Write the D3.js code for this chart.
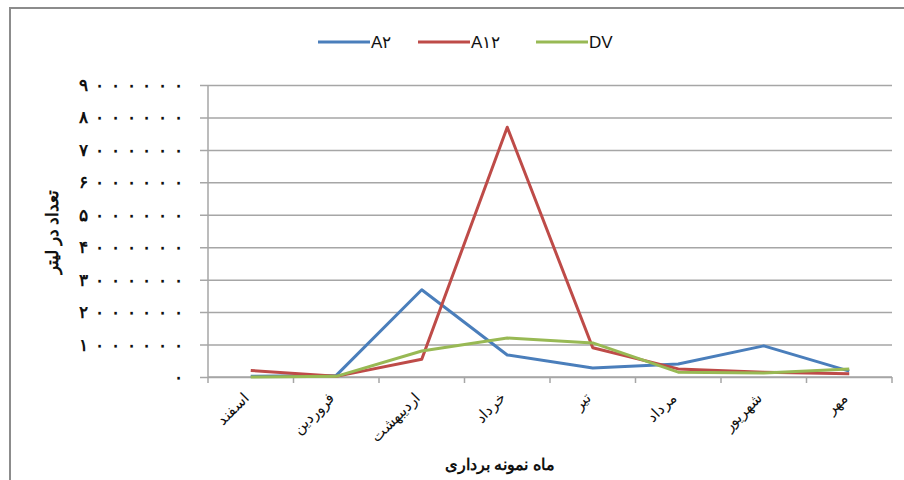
<!DOCTYPE html>
<html>
<head>
<meta charset="utf-8">
<script src="https://cdn.jsdelivr.net/npm/d3@7"></script>
<style>
  body { margin: 0; background: #fff; }
  text { font-family: "Liberation Sans", Arial, sans-serif; fill: #111; }
</style>
</head>
<body>
<script>
const MARGIN = { top: 85, right: 12, bottom: 103, left: 208 };
const WIDTH = 904 - MARGIN.left - MARGIN.right;
const HEIGHT = 480 - MARGIN.top - MARGIN.bottom;

const months = ["اسفند", "فروردین", "اردیبهشت", "خرداد", "تیر", "مرداد", "شهریور", "مهر"];
const seriesNames = ["A۲", "A۱۲", "DV"];
const seriesColors = ["#4A7EBB", "#BE4B48", "#98B954"];
const a2 = [20000, 50000, 2690000, 680000, 280000, 400000, 960000, 180000];
const a12 = [200000, 20000, 550000, 7700000, 900000, 250000, 150000, 100000];
const dv = [0, 20000, 800000, 1200000, 1050000, 150000, 120000, 250000];
const yTicks = [0, 1000000, 2000000, 3000000, 4000000, 5000000, 6000000, 7000000, 8000000, 9000000];

const faDigits = "۰۱۲۳۴۵۶۷۸۹";
const toFa = n => String(n).replace(/\d/g, d => faDigits[+d]);

const svg = d3
  .select("body")
  .append("svg")
  .attr("width", 904)
  .attr("height", 480);

// chart frame
svg.append("path")
  .attr("d", "M10,480 L10,8 L904,8")
  .attr("fill", "none")
  .attr("stroke", "#8c8c8c")
  .attr("stroke-width", 2);

const g = svg.append("g")
  .attr("transform", "translate(" + MARGIN.left + "," + MARGIN.top + ")");

const xScale = d3.scaleBand().domain(months).range([0, WIDTH]);
const yScale = d3.scaleLinear().domain([0, 9000000]).range([HEIGHT, 0]);

// gridlines + y axis
g.append("g")
  .attr("class", "yAxis")
  .call(d3.axisLeft(yScale).tickValues(yTicks).tickSize(-WIDTH).tickPadding(25).tickFormat(toFa))
  .call(a => a.select(".domain").remove())
  .call(a => a.selectAll("line").attr("stroke", "#a6a6a6").attr("stroke-width", 1.5).attr("x1", -8))
  .call(a => a.selectAll("text")
    .attr("font-family", "DejaVu Sans")
    .attr("font-size", 17)
    .attr("font-weight", "bold")
    .attr("fill", "#111")
    .filter(d => d > 0)
    .attr("textLength", 104)
    .attr("lengthAdjust", "spacing"));

g.append("line")
  .attr("x1", 0).attr("x2", 0).attr("y1", 0).attr("y2", HEIGHT)
  .attr("stroke", "#a6a6a6").attr("stroke-width", 1.5);

// x axis with ticks at category boundaries
const xAxis = g.append("g").attr("transform", "translate(0," + HEIGHT + ")");
xAxis.append("line")
  .attr("x1", 0).attr("x2", WIDTH)
  .attr("stroke", "#a6a6a6").attr("stroke-width", 1.5);
xAxis.selectAll(".tick")
  .data(d3.range(months.length + 1))
  .enter()
  .append("line")
  .attr("x1", i => i * xScale.step())
  .attr("x2", i => i * xScale.step())
  .attr("y1", 0).attr("y2", 6)
  .attr("stroke", "#a6a6a6").attr("stroke-width", 1.5);
xAxis.selectAll(".label")
  .data(months)
  .enter()
  .append("text")
  .attr("transform", d => "translate(" + (xScale(d) + xScale.bandwidth() / 2 - 1) + ",22) rotate(-45)")
  .attr("text-anchor", "end")
  .attr("font-size", 15)
  .text(d => d);

// lines
const allSeries = [a2, a12, dv];
const line = d3.line()
  .x((_, i) => xScale(months[i]) + xScale.bandwidth() / 2)
  .y(d => yScale(d));

g.selectAll(".series")
  .data(allSeries)
  .enter()
  .append("path")
  .attr("d", d => line(d))
  .attr("fill", "none")
  .attr("stroke", (_, i) => seriesColors[i])
  .attr("stroke-width", 3)
  .attr("stroke-linejoin", "round");

// legend
const legendX = [318, 418, 536];
const legend = svg.selectAll(".legend")
  .data(seriesNames)
  .enter()
  .append("g")
  .attr("transform", (_, i) => "translate(" + legendX[i] + ",42)");
legend.append("line")
  .attr("x1", 0).attr("x2", 52)
  .attr("stroke", (_, i) => seriesColors[i])
  .attr("stroke-width", 3);
legend.append("text")
  .attr("x", 53).attr("y", 6)
  .attr("font-size", 17)
  .text(d => d);

// axis titles
svg.append("text")
  .attr("transform", "translate(58,232) rotate(-90)")
  .attr("text-anchor", "middle")
  .attr("font-size", 17)
  .attr("font-weight", "bold")
  .text("تعداد در لیتر");

svg.append("text")
  .attr("x", 500).attr("y", 470)
  .attr("text-anchor", "middle")
  .attr("font-size", 16)
  .attr("font-weight", "bold")
  .text("ماه نمونه برداری");
</script>
</body>
</html>
